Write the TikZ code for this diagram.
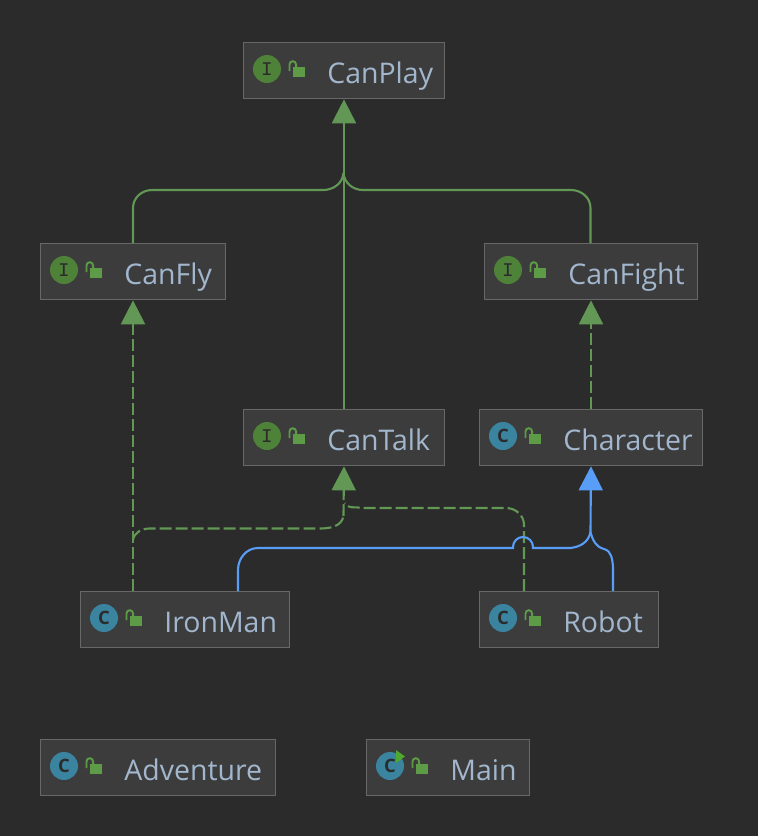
\documentclass[tikz,border=0pt]{standalone}
\usepackage{fontspec}
\setmainfont{Open Sans}
\setmonofont{Liberation Mono}
\usetikzlibrary{arrows.meta}
\definecolor{bgdark}{HTML}{2B2B2B}
\definecolor{boxfill}{HTML}{3C3C3C}
\definecolor{boxline}{HTML}{686868}
\definecolor{labelblue}{HTML}{A2B7CE}
\definecolor{intgreen}{HTML}{4E8239}
\definecolor{classblue}{HTML}{3A84A0}
\definecolor{lockgreen}{HTML}{5D9B47}
\definecolor{realgreen}{HTML}{629755}
\definecolor{extblue}{HTML}{589DF6}
\definecolor{runarrow}{HTML}{4FA82E}
\tikzset{
    classbox/.style={draw=boxline, fill=boxfill, line width=1pt, anchor=north west, minimum height=1.12cm, inner sep=0pt},
    classlabel/.style={anchor=base west, text=labelblue, font=\fontsize{16.2}{18}\selectfont, inner sep=0pt},
    intericon/.style={circle, fill=intgreen, minimum size=0.56cm, inner sep=0pt, text=bgdark, font=\fontsize{11}{12}\ttfamily},
    clsicon/.style={circle, fill=classblue, minimum size=0.56cm, inner sep=0pt, text=bgdark, font=\fontsize{10.5}{11}\bfseries},
    impl/.style={draw=realgreen, line width=1.2pt, dash pattern=on 6.8pt off 2.3pt, -{Triangle[length=0.48cm,width=0.48cm,fill=realgreen]}},
    implplain/.style={draw=realgreen, line width=1.2pt, dash pattern=on 6.8pt off 2.3pt},
    ext/.style={draw=realgreen, line width=1.2pt, -{Triangle[length=0.48cm,width=0.48cm,fill=realgreen]}},
    extplain/.style={draw=realgreen, line width=1.2pt},
    inh/.style={draw=extblue, line width=1.2pt, -{Triangle[length=0.48cm,width=0.48cm,fill=extblue]}},
    inhplain/.style={draw=extblue, line width=1.2pt},
}
% box: name, left, top, width, icon style, letter, text
\newcommand{\umlbox}[7]{
    \node[classbox, minimum width=#4*0.02cm] (#1) at (#2-0.4,#3-0.4) {};
    \node[#5] (#1icon) at (#2+24,#3+27) {#6};
    \fill[lockgreen] (#2+50,#3+25) rectangle (#2+62,#3+35);
    \draw[lockgreen, line width=1.1pt] (#2+46.5,#3+29) -- (#2+46.5,#3+22.5) arc (180:360:3.3) -- (#2+53.1,#3+25);
    \node[classlabel] (#1label) at (#2+84,#3+41) {#7};
}

\begin{document}
\begin{tikzpicture}[x=0.02cm, y=-0.02cm]
    \useasboundingbox[fill=bgdark] (0,0) rectangle (758,836);

    \umlbox{canplay}{243}{42}{201}{intericon}{I}{CanPlay}
    \umlbox{canfly}{40}{243}{185}{intericon}{I}{CanFly}
    \umlbox{canfight}{484}{243}{213}{intericon}{I}{CanFight}
    \umlbox{cantalk}{243}{409}{201}{intericon}{I}{CanTalk}
    \umlbox{character}{479}{409}{223}{clsicon}{C}{Character}
    \umlbox{ironman}{80}{591}{209}{clsicon}{C}{IronMan}
    \umlbox{robot}{479}{591}{179}{clsicon}{C}{Robot}
    \umlbox{adventure}{40}{739}{235}{clsicon}{C}{Adventure}
    \umlbox{main}{366}{739}{163}{clsicon}{C}{Main}
    \fill[runarrow] (396,750) -- (405,756.5) -- (396,763) -- cycle;

    % free ends of the routed edges
    \coordinate (ironfly) at (133,591);
    \coordinate (irontalk) at (133,540);
    \coordinate (ironchar) at (238,591);
    \coordinate (robottalk) at (524,591);
    \coordinate (robotchar) at (613,591);
    \coordinate (flyup) at (133,243);
    \coordinate (fightup) at (590.5,243);
    \coordinate (talkmerge) at (343.5,516);
    \coordinate (playmerge) at (343.5,173);
    \coordinate (charmerge) at (590.5,532);

    \draw[ext] (cantalk.north) -- (canplay.south);
    \draw[extplain] (flyup) -- (133,208) to[out=90,in=180] (152,190) -- (323,190) to[out=0,in=-95] (playmerge);
    \draw[extplain] (fightup) -- (590.5,208) to[out=90,in=0] (571,190) -- (363,190) to[out=180,in=-85] (playmerge);

    \draw[impl] (ironfly) -- (canfly.south -| ironfly);
    \draw[impl] (talkmerge) -- (cantalk.south);
    \draw[implplain] (irontalk) to[out=80,in=180] (150,528.5) -- (320,528.5) to[out=0,in=-100] (talkmerge);
    \draw[implplain] (robottalk) -- (524,525) to[out=90,in=0] (506,508) -- (362,508) to[out=165,in=-70] (345,503);

    \draw[impl] (character.north) -- (canfight.south);

    \draw[inh] (charmerge) -- (character.south);
    \draw[inhplain] (ironchar) -- (238,570) to[out=90,in=180] (258,548) -- (513,548) -- (513,547) arc (180:360:10) -- (533,548) -- (570,548) to[out=5,in=-100] (charmerge);
    \draw[inhplain] (robotchar) -- (613,567) to[out=95,in=-15] (604,549) to[out=165,in=-75] (charmerge);
\end{tikzpicture}
\end{document}
